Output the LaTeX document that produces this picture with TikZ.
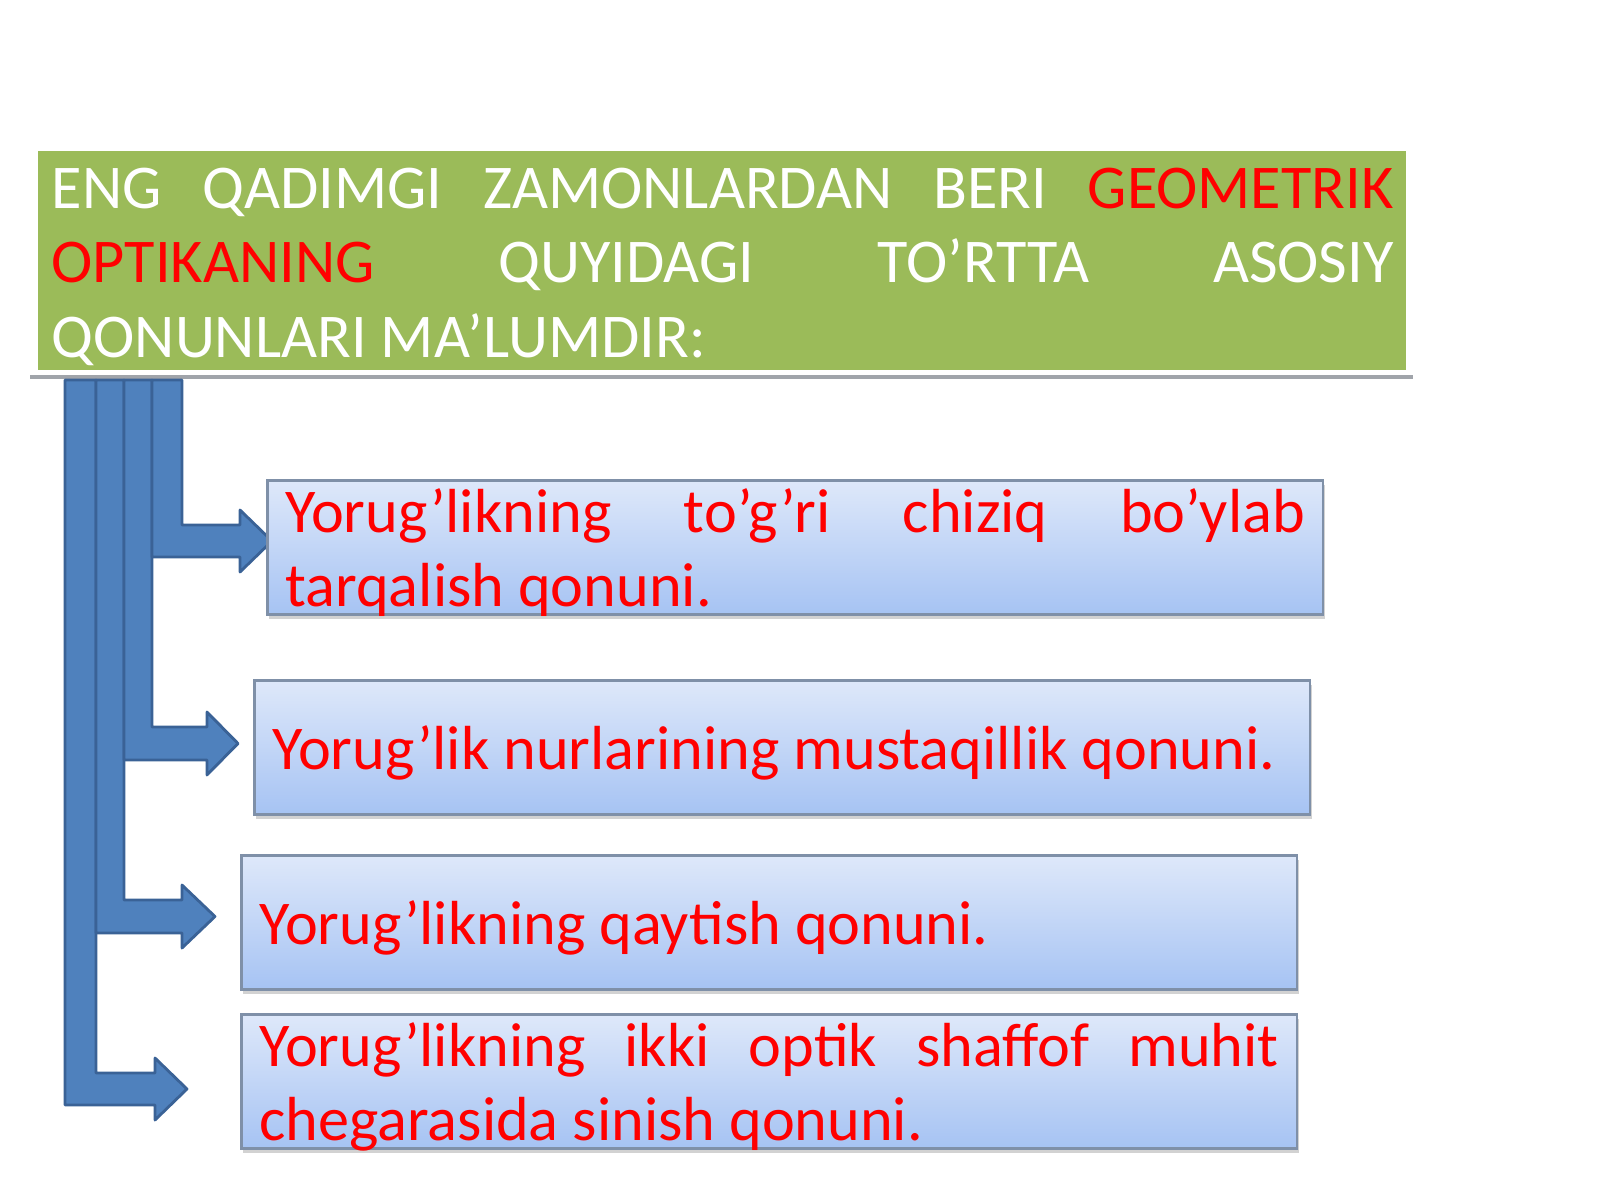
\documentclass[tikz,border=0pt]{standalone}
\usepackage{fontspec}
\setmainfont{Carlito}
\usepackage{tikz}
\usetikzlibrary{shadows}

\definecolor{titlegreen}{HTML}{9BBB59}
\definecolor{lawred}{HTML}{FF0000}
\definecolor{boxtop}{HTML}{DEE8FA}
\definecolor{boxbottom}{HTML}{A6C3F3}
\definecolor{boxedge}{HTML}{7F90A8}
\definecolor{arrowblue}{HTML}{4F81BD}
\definecolor{arrowedge}{HTML}{3A6296}
\definecolor{rulegray}{HTML}{A0A4AA}

\begin{document}
\begin{tikzpicture}[x=0.01cm,y=-0.01cm]
	\tikzstyle{every node}=[font=\fontsize{17.7pt}{21.2pt}\selectfont]
	\tikzstyle{lawbox}=[draw=boxedge,line width=0.8pt,top color=boxtop,bottom color=boxbottom,
	text=lawred,anchor=north west,minimum width=10.55cm,minimum height=1.34cm,
	inner xsep=0.18cm,inner ysep=0pt,text width=10.19cm,text depth=0pt,align=justify,
	drop shadow={shadow xshift=0.5pt,shadow yshift=-1.2pt,fill=black!35}]
	\tikzstyle{twolaw}=[lawbox,text depth=21.2pt]
	\tikzstyle{branch}=[fill=arrowblue,draw=arrowedge,line width=0.8pt,line join=round]

	\useasboundingbox (0,0) rectangle (1600,1200);

	%% Title bar
	\fill[titlegreen] (38,151) rectangle (1406,370);
	\node[anchor=north west,inner sep=0pt,text width=13.41cm,align=justify,text=white] (title) at (51,167)
	{ENG QADIMGI ZAMONLARDAN BERI \textcolor{lawred}{GEOMETRIK}\linebreak
	\textcolor{lawred}{OPTIKANING} QUYIDAGI TO’RTTA ASOSIY\linebreak
	QONUNLARI MA’LUMDIR:};
	\draw[rulegray,line width=1pt] (30,377) -- (1413,377);

	%% Branch arrows
	\foreach \xl/\xr/\yt/\yb/\hx/\tx in {65/96/1073/1105/155/187,96/124/900/933/182/215,
		124/152/727/760/207/238,152/182/525/557/240/272}
	\draw[branch] (\xl,380) -- (\xl,\yb) -- (\hx,\yb) -- (\hx,\yb+15) -- (\tx,{(\yt+\yb)/2})
		-- (\hx,\yt-15) -- (\hx,\yt) -- (\xr,\yt) -- (\xr,380) -- cycle;

	%% Laws
	\node[twolaw] (law1) at (266,479) {Yorug’likning to’g’ri chiziq bo’ylab\linebreak tarqalish qonuni.};
	\node[lawbox] (law2) at (253,679) {Yorug’lik nurlarining mustaqillik qonuni.};
	\node[lawbox] (law3) at (240,854) {Yorug’likning qaytish qonuni.};
	\node[twolaw] (law4) at (240,1013) {Yorug’likning ikki optik shaffof muhit\linebreak chegarasida sinish qonuni.};

\end{tikzpicture}
\end{document}
